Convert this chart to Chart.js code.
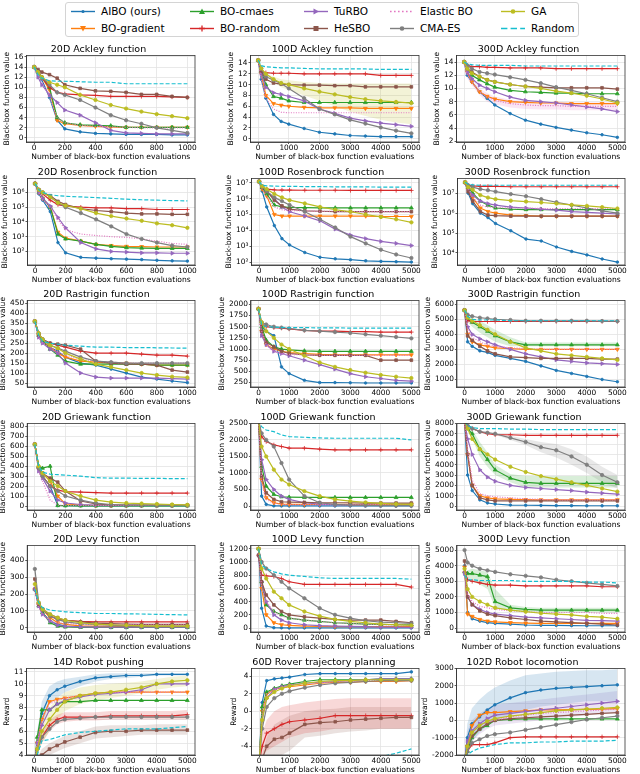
<!DOCTYPE html>
<html>
<head>
<meta charset="utf-8">
<script src="https://cdn.jsdelivr.net/npm/chart.js@4.4.1/dist/chart.umd.min.js"></script>
<style>
body{margin:0;background:#fff;width:640px;height:774px;position:relative;overflow:hidden;font-family:"DejaVu Sans",sans-serif;}
.panel{position:absolute;}
#legend{position:absolute;left:65px;top:2px;width:514px;height:35px;border:1px solid #d4d4d4;border-radius:3px;box-sizing:border-box;}
.item{position:absolute;font-size:10.5px;color:#000;white-space:nowrap;line-height:13px;}
.item svg{position:absolute;left:0;top:0;}
.item span{position:absolute;top:0;}
</style>
</head>
<body>
<div id="legend"></div>
<script>
// ---- data (method order: AIBO, BO-gradient, BO-cmaes, BO-random, TuRBO, HeSBO, Elastic BO, CMA-ES, GA, Random)
const methods = ['AIBO (ours)', 'BO-gradient', 'BO-cmaes', 'BO-random', 'TuRBO', 'HeSBO', 'Elastic BO', 'CMA-ES', 'GA', 'Random'];

const xs1k = [0, 25, 50, 100, 150, 200, 300, 400, 500, 600, 700, 800, 900, 1000];
const xs5k = [0, 100, 250, 500, 750, 1000, 1500, 2000, 2500, 3000, 3500, 4000, 4500, 5000];
const xTicks1k = [0, 200, 400, 600, 800, 1000];
const xTicks5k = [0, 1000, 2000, 3000, 4000, 5000];

const ackley20 = [
  [14, 13, 11.5, 8, 3.5, 1.8, 1.2, 0.9, 0.8, 0.7, 0.7, 0.7, 0.6, 0.6],
  [14, 13, 12, 9.5, 3.5, 2.8, 2.5, 2.3, 2.2, 2.1, 2.1, 2.1, 2.1, 2.1],
  [14, 13, 12, 10, 4, 3, 2.6, 2.5, 2.4, 2.1, 2.1, 2.1, 2.1, 2.1],
  [14, 13, 12, 10, 9, 8.7, 8.5, 8.4, 8.2, 8.2, 8.2, 8.2, 8.1, 8.0],
  [14, 12, 10.5, 8.5, 7, 5.5, 4.5, 3, 1.5, 1.0, 0.9, 0.8, 0.8, 0.8],
  [14, 13.5, 13, 12.5, 11.8, 10.5, 9.8, 9.3, 9.2, 9.0, 8.6, 8.6, 8.2, 8.0],
  [14, 13, 11.5, 8, 4, 3, 2.5, 2.3, 2.2, 2.1, 2.0, 2.0, 2.0, 2.0],
  [14, 13, 12, 10.5, 9, 8.5, 7.5, 6, 4.5, 3.5, 2.8, 2, 1.5, 1.0],
  [14, 13, 12, 11, 10.5, 10, 8.5, 7.5, 6.5, 5.8, 5.2, 4.7, 4.3, 3.9],
  [14, 12.5, 11.8, 11.3, 11.2, 11.2, 11.1, 11, 11, 10.7, 10.7, 10.7, 10.7, 10.7]
];
const ackley100 = [
  [14.5, 11, 7.5, 4.5, 3.2, 2.7, 1.9, 1.2, 0.9, 0.6, 0.5, 0.4, 0.4, 0.4],
  [14.5, 12, 8, 6.5, 6.2, 6.0, 5.8, 5.7, 5.7, 5.7, 5.6, 5.6, 5.6, 5.6],
  [14.5, 12.5, 10, 7.8, 7.5, 7.0, 6.7, 6.7, 6.7, 6.7, 6.7, 6.7, 6.7, 6.7],
  [14.5, 12.5, 12.2, 12.1, 12.1, 12.1, 12.0, 12.0, 12.0, 12.0, 12.0, 11.7, 11.7, 11.7],
  [14.5, 12, 9.5, 8.5, 8.2, 7.8, 7.0, 5.5, 4.7, 3.8, 3.3, 2.9, 2.6, 2.3],
  [14.5, 12.5, 11, 10.3, 10.1, 10.0, 9.9, 9.9, 9.8, 9.8, 9.6, 9.6, 9.6, 9.6],
  [14.5, 11, 7.5, 5.5, 4.9, 4.8, 4.8, 4.8, 4.8, 4.8, 4.8, 4.8, 4.8, 4.8],
  [14.5, 13, 11.5, 10.8, 10.2, 9.3, 7.5, 5.5, 4.5, 3.5, 2.8, 2.1, 1.5, 1.0],
  [14.5, 13, 12, 11, 10.3, 10, 9.3, 8.7, 8.2, 7.7, 7.3, 7.0, 6.8, 6.6],
  [14.5, 13.5, 13.3, 13.2, 13.1, 13.1, 13, 12.9, 12.9, 12.9, 12.9, 12.8, 12.8, 12.8]
];
const ackley100_gaLo = [14.5, 13, 12, 10.5, 9.5, 9, 8, 7, 6, 5, 4.2, 3.5, 3, 2.7];
const ackley100_gaHi = [14.5, 13, 12, 11.5, 11, 10.8, 10.5, 10.3, 10.2, 10.2, 10.2, 10.2, 10.2, 10.2];
const ackley300 = [
  [14, 12, 11, 9.5, 8.5, 7.5, 6.2, 5.2, 4.6, 4.1, 3.7, 3.3, 3.0, 2.6],
  [14, 12.5, 11, 9.5, 8.8, 8.4, 8.0, 7.9, 7.8, 7.8, 7.7, 7.7, 7.7, 7.7],
  [14, 13, 12, 11.3, 10.7, 10.2, 9.7, 9.5, 9.4, 9.3, 9.3, 9.2, 9.2, 9.2],
  [14, 13.5, 13.3, 13.3, 13.2, 13.2, 13.1, 13.1, 13.1, 13.0, 13.0, 13.0, 13.0, 13.0],
  [14, 12.5, 11.5, 10.5, 10, 9.5, 8.7, 8.2, 8.0, 7.8, 7.5, 7.2, 6.9, 6.5],
  [14, 13, 12.5, 11.8, 11.3, 11, 10.6, 10.3, 10.2, 10.1, 10.1, 10.1, 10.1, 9.9],
  [14, 12, 11, 9.5, 8.7, 8.2, 7.7, 7.5, 7.4, 7.4, 7.3, 7.3, 7.3, 7.3],
  [14, 13.5, 13, 12.5, 12.3, 12.1, 11.7, 11.3, 10.8, 10.2, 9.7, 9.2, 8.6, 8.0],
  [14, 13, 12.3, 11.8, 11.3, 11.0, 10.6, 10.3, 10.0, 9.6, 9.3, 8.9, 8.4, 7.8],
  [14, 13.7, 13.6, 13.5, 13.5, 13.5, 13.5, 13.4, 13.4, 13.4, 13.4, 13.4, 13.4, 13.4]
];
const ackley300_ebLo = [14, 11.5, 10.5, 9, 8, 7.6, 7.1, 6.9, 6.8, 6.8, 6.7, 6.7, 6.7, 6.7];
const ackley300_ebHi = [14, 12.5, 11.5, 10, 9.3, 8.8, 8.3, 8.1, 8.0, 8.0, 7.9, 7.9, 7.9, 7.9];
const rosen20 = [
  [4e6, 8e5, 3e5, 5e4, 400, 80, 40, 35, 32, 30, 28, 25, 23, 22],
  [4e6, 1e6, 4e5, 1e5, 2000, 800, 500, 300, 250, 220, 210, 200, 200, 200],
  [4e6, 1e6, 4e5, 1e5, 1500, 700, 500, 300, 220, 180, 170, 160, 160, 160],
  [4e6, 1.5e6, 8e5, 3e5, 1.5e5, 1.2e5, 1e5, 9e4, 9e4, 8e4, 8e4, 7e4, 7e4, 7e4],
  [4e6, 1e6, 4e5, 1.2e5, 2e4, 4000, 400, 150, 100, 90, 80, 80, 75, 75],
  [4e6, 1.5e6, 1e6, 6e5, 2.5e5, 1.5e5, 8e4, 6e4, 5e4, 4e4, 3.5e4, 3.5e4, 3.3e4, 3.3e4],
  [4e6, 1e6, 3e5, 1e5, 1.5e4, 3000, 1500, 1200, 1000, 900, 700, 500, 350, 300],
  [4e6, 1.5e6, 1e6, 5e5, 2e5, 1e5, 4e4, 1.5e4, 5000, 1500, 700, 400, 250, 200],
  [4e6, 1.5e6, 1e6, 5e5, 2e5, 1.3e5, 8e4, 4e4, 2.5e4, 1.7e4, 1.2e4, 8000, 6000, 4000],
  [4e6, 1.5e6, 1e6, 7e5, 6e5, 5.5e5, 5e5, 4.5e5, 4e5, 3.5e5, 3.2e5, 3e5, 2.8e5, 2.7e5]
];
const rosen100 = [
  [1.2e7, 3e6, 3e5, 2e4, 3000, 1200, 400, 200, 160, 140, 120, 110, 105, 100],
  [1.2e7, 4e6, 1.5e6, 1e5, 8e4, 8e4, 8e4, 8e4, 8e4, 8e4, 8e4, 7.5e4, 7.5e4, 7.5e4],
  [1.2e7, 5e6, 2e6, 4e5, 3e5, 2.8e5, 2.7e5, 2.6e5, 2.6e5, 2.6e5, 2.6e5, 2.6e5, 2.6e5, 2.6e5],
  [1.2e7, 5e6, 4e6, 3.6e6, 3.5e6, 3.5e6, 3.4e6, 3.4e6, 3.4e6, 3.3e6, 3.3e6, 3.3e6, 3.3e6, 3.3e6],
  [1.2e7, 6e6, 3e6, 1e6, 3e5, 1.5e5, 8e4, 4e4, 1.2e4, 5000, 3000, 2000, 1500, 1100],
  [1.2e7, 6e6, 3e6, 8e5, 3.5e5, 2.2e5, 1.7e5, 1.6e5, 1.5e5, 1.5e5, 1.5e5, 1.5e5, 1.5e5, 1.5e5],
  [1.2e7, 4e6, 1.5e6, 3e5, 2e5, 1.8e5, 1.7e5, 1.6e5, 1.6e5, 1.5e5, 1.5e5, 1.5e5, 1.5e5, 1.5e5],
  [1.2e7, 6e6, 3e6, 1.2e6, 7e5, 4e5, 1.5e5, 5e4, 1.5e4, 4000, 1500, 600, 300, 180],
  [1.2e7, 6e6, 4e6, 2e6, 1.2e6, 8e5, 5e5, 3e5, 2e5, 1.5e5, 1e5, 7e4, 5e4, 3.2e4],
  [1.2e7, 7e6, 6.5e6, 6.2e6, 6e6, 6e6, 5.8e6, 5.7e6, 5.6e6, 5.5e6, 5.5e6, 5.4e6, 5.4e6, 5.3e6]
];
const rosen300 = [
  [3.5e7, 1e7, 3e6, 1e6, 6e5, 3e5, 1.3e5, 5e4, 4e4, 2e4, 1.2e4, 8000, 5000, 3500],
  [3.5e7, 1.5e7, 6e6, 1.8e6, 1.2e6, 1e6, 8e5, 7.5e5, 7e5, 7e5, 7e5, 7e5, 7e5, 7e5],
  [3.5e7, 2e7, 1e7, 4e6, 2.5e6, 1.8e6, 1.6e6, 1.5e6, 1.5e6, 1.5e6, 1.5e6, 1.5e6, 1.5e6, 1.5e6],
  [3.5e7, 2.5e7, 2.3e7, 2.2e7, 2.2e7, 2.2e7, 2.1e7, 2.1e7, 2.1e7, 2.1e7, 2.1e7, 2.1e7, 2.1e7, 2.1e7],
  [3.5e7, 1.5e7, 8e6, 4e6, 3e6, 2.5e6, 2e6, 1.8e6, 1.6e6, 1.4e6, 1.2e6, 1.1e6, 1e6, 9e5],
  [3.5e7, 1.2e7, 4e6, 1.2e6, 8e5, 7.5e5, 7e5, 7e5, 7e5, 7e5, 7e5, 7e5, 7e5, 7e5],
  [3.5e7, 1.5e7, 6e6, 2.5e6, 2e6, 1.9e6, 1.8e6, 1.8e6, 1.7e6, 1.7e6, 1.7e6, 1.7e6, 1.7e6, 1.7e6],
  [3.5e7, 2.5e7, 2e7, 1.6e7, 1.4e7, 1.2e7, 9e6, 7e6, 5e6, 3.5e6, 2.5e6, 1.8e6, 1.3e6, 1e6],
  [3.5e7, 2e7, 1.5e7, 8e6, 6e6, 5e6, 4.2e6, 3.8e6, 3.4e6, 3e6, 2.6e6, 2.3e6, 2e6, 1.7e6],
  [3.5e7, 2.8e7, 2.6e7, 2.5e7, 2.5e7, 2.5e7, 2.5e7, 2.5e7, 2.5e7, 2.5e7, 2.5e7, 2.5e7, 2.5e7, 2.5e7]
];
const rast20 = [
  [360, 300, 260, 230, 210, 180, 150, 140, 120, 100, 80, 70, 60, 52],
  [360, 290, 260, 230, 200, 180, 160, 155, 150, 150, 145, 140, 140, 140],
  [360, 290, 260, 220, 190, 160, 145, 145, 145, 145, 145, 140, 140, 140],
  [360, 300, 270, 250, 240, 230, 210, 200, 200, 200, 195, 190, 190, 185],
  [360, 280, 250, 220, 200, 150, 100, 80, 75, 75, 75, 75, 72, 70],
  [360, 290, 270, 250, 245, 240, 220, 160, 150, 145, 145, 140, 115, 105],
  [360, 280, 250, 230, 210, 190, 170, 160, 155, 150, 150, 150, 150, 150],
  [360, 300, 270, 240, 225, 210, 180, 160, 155, 150, 150, 150, 150, 150],
  [360, 300, 270, 240, 225, 200, 170, 145, 130, 115, 100, 90, 82, 78],
  [360, 290, 260, 250, 245, 240, 235, 230, 230, 228, 228, 227, 226, 225]
];
const rast100 = [
  [1900, 1500, 1400, 1300, 600, 450, 300, 250, 250, 245, 240, 240, 240, 240],
  [1900, 1400, 1100, 1000, 950, 920, 900, 880, 870, 870, 870, 870, 870, 870],
  [1900, 1500, 1200, 1050, 1000, 980, 960, 950, 950, 950, 950, 950, 950, 950],
  [1900, 1550, 1500, 1480, 1470, 1450, 1420, 1400, 1400, 1390, 1390, 1380, 1380, 1380],
  [1900, 1300, 1100, 950, 900, 850, 750, 650, 550, 450, 380, 340, 300, 280],
  [1900, 1400, 1150, 1050, 950, 900, 870, 860, 860, 860, 860, 750, 750, 750],
  [1900, 1400, 1100, 950, 900, 880, 870, 860, 860, 860, 860, 860, 860, 860],
  [1900, 1600, 1550, 1500, 1480, 1460, 1420, 1400, 1380, 1360, 1330, 1300, 1270, 1240],
  [1900, 1600, 1400, 1250, 1100, 1000, 850, 700, 600, 530, 470, 420, 380, 350],
  [1900, 1550, 1500, 1490, 1485, 1480, 1480, 1475, 1475, 1470, 1470, 1470, 1470, 1470]
];
const rast300 = [
  [5600, 3500, 3200, 2900, 2800, 2600, 2400, 2200, 1900, 1600, 1400, 1200, 1000, 850],
  [5600, 4000, 3500, 3300, 3200, 3100, 3050, 3000, 3000, 3000, 3000, 3000, 3000, 3000],
  [5600, 5000, 4800, 4500, 4200, 3900, 3500, 3300, 3300, 3300, 3300, 3300, 3300, 3300],
  [5600, 4900, 4850, 4850, 4850, 4850, 4850, 4850, 4850, 4850, 4850, 4850, 4850, 4850],
  [5600, 4500, 4000, 3700, 3500, 3300, 3000, 2700, 2500, 2300, 2200, 2100, 2050, 2000],
  [5600, 3900, 3600, 3200, 2900, 2700, 2500, 2450, 2400, 2400, 2400, 2400, 2350, 2350],
  [5600, 4300, 3800, 3500, 3300, 3200, 3100, 3050, 3000, 3000, 3000, 3000, 3000, 3000],
  [5600, 5300, 5200, 5100, 5050, 5000, 4950, 4900, 4900, 4900, 4900, 4900, 4880, 4870],
  [5600, 5100, 4900, 4600, 4300, 4000, 3500, 3100, 2900, 2700, 2600, 2500, 2400, 2300],
  [5600, 5200, 5000, 4950, 4950, 4950, 4900, 4900, 4900, 4900, 4900, 4900, 4900, 4900]
];
const rast300_bocLo = [5600, 4800, 4500, 4100, 3800, 3500, 3200, 3200, 3200, 3200, 3200, 3200, 3200, 3200];
const rast300_bocHi = [5600, 5200, 5100, 4900, 4600, 4300, 3800, 3450, 3450, 3450, 3450, 3450, 3450, 3450];
const grie20 = [
  [620, 400, 300, 200, 5, 3, 2, 2, 2, 2, 2, 2, 2, 2],
  [620, 380, 330, 250, 100, 20, 10, 5, 5, 5, 5, 5, 5, 5],
  [620, 400, 380, 400, 5, 3, 2, 2, 2, 2, 2, 2, 2, 2],
  [620, 380, 300, 200, 160, 145, 140, 135, 130, 130, 130, 130, 130, 130],
  [620, 350, 280, 150, 60, 30, 15, 10, 8, 7, 7, 6, 6, 6],
  [620, 380, 330, 280, 240, 150, 50, 20, 10, 10, 10, 10, 10, 10],
  [620, 350, 250, 60, 10, 5, 5, 5, 5, 5, 5, 5, 5, 5],
  [620, 380, 300, 200, 150, 100, 60, 30, 15, 10, 8, 6, 5, 5],
  [620, 400, 330, 250, 200, 150, 100, 60, 40, 30, 25, 20, 15, 12],
  [620, 400, 340, 320, 315, 310, 300, 285, 280, 280, 278, 278, 275, 275]
];
const grie100 = [
  [2600, 300, 50, 5, 2, 2, 2, 2, 2, 2, 2, 2, 2, 2],
  [2600, 800, 250, 100, 60, 50, 50, 50, 50, 50, 50, 50, 50, 50],
  [2600, 1200, 600, 350, 280, 270, 260, 260, 260, 260, 260, 260, 260, 260],
  [2600, 2100, 1950, 1850, 1800, 1750, 1750, 1720, 1700, 1700, 1700, 1700, 1700, 1700],
  [2600, 1400, 800, 500, 300, 200, 100, 60, 40, 30, 25, 20, 20, 20],
  [2600, 900, 400, 200, 130, 120, 110, 100, 100, 100, 90, 90, 90, 90],
  [2600, 700, 200, 80, 50, 40, 40, 40, 40, 40, 40, 40, 40, 40],
  [2600, 2200, 2000, 1800, 1300, 800, 300, 100, 50, 30, 20, 15, 10, 10],
  [2600, 1800, 1500, 1100, 800, 650, 450, 300, 200, 150, 110, 80, 60, 50],
  [2600, 2400, 2300, 2250, 2150, 2100, 2080, 2060, 2050, 2050, 2050, 2050, 2050, 2000]
];
const grie300 = [
  [8200, 3000, 1500, 600, 300, 200, 100, 80, 60, 50, 40, 30, 30, 30],
  [8200, 5000, 2000, 1000, 800, 700, 650, 620, 600, 600, 600, 600, 600, 600],
  [8200, 7500, 7000, 5500, 4500, 3500, 2700, 2300, 2200, 2200, 2200, 2200, 2200, 2200],
  [8200, 7800, 7500, 7200, 7000, 6900, 6900, 6850, 6850, 6850, 6850, 6850, 6850, 6850],
  [8200, 6500, 5000, 3500, 2800, 2400, 2000, 1800, 1700, 1600, 1500, 1350, 1250, 1150],
  [8200, 5000, 2000, 800, 600, 500, 500, 500, 500, 500, 500, 500, 500, 500],
  [8200, 5500, 2500, 1200, 1000, 900, 800, 700, 650, 600, 600, 600, 600, 600],
  [8200, 7800, 7500, 7200, 7100, 7000, 6600, 6200, 5700, 5400, 4800, 4000, 3000, 2300],
  [8200, 7500, 6500, 5500, 5000, 4500, 3800, 3300, 2900, 2600, 2300, 2000, 1700, 1400],
  [8200, 7800, 7600, 7500, 7500, 7500, 7450, 7450, 7400, 7400, 7400, 7400, 7400, 7400]
];
const grie300_cmaLo = [8200, 7800, 7500, 7200, 7100, 6900, 6400, 5900, 5200, 4700, 4000, 3200, 2300, 1700];
const grie300_cmaHi = [8200, 7800, 7500, 7200, 7100, 7100, 6800, 6500, 6200, 6000, 5500, 4800, 3800, 3000];
const grie300_bocLo = [8200, 7300, 6500, 4800, 3800, 3000, 2300, 1800, 1800, 1800, 1800, 1800, 1800, 1800];
const grie300_bocHi = [8200, 7700, 7400, 6200, 5200, 4000, 3100, 2900, 2900, 2900, 2900, 2900, 2900, 2900];
const levy20 = [
  [230, 130, 90, 40, 20, 10, 5, 3, 2, 2, 2, 2, 2, 2],
  [230, 140, 110, 60, 30, 20, 12, 10, 8, 8, 8, 8, 8, 8],
  [230, 130, 90, 30, 10, 5, 3, 2, 2, 2, 2, 2, 2, 2],
  [230, 140, 110, 70, 50, 45, 38, 35, 35, 35, 35, 35, 35, 35],
  [230, 130, 80, 40, 15, 8, 5, 4, 4, 4, 4, 4, 4, 4],
  [290, 140, 110, 80, 60, 45, 35, 28, 25, 22, 20, 20, 20, 20],
  [230, 120, 80, 40, 30, 25, 20, 18, 18, 18, 18, 18, 18, 18],
  [350, 150, 110, 70, 50, 35, 25, 20, 15, 12, 10, 10, 10, 10],
  [260, 150, 110, 80, 60, 45, 30, 22, 18, 15, 12, 10, 10, 10],
  [230, 150, 120, 105, 100, 95, 90, 85, 85, 83, 82, 80, 78, 77]
];
const levy100 = [
  [1200, 300, 30, 5, 3, 2, 2, 2, 2, 2, 2, 2, 2, 2],
  [1200, 600, 200, 80, 50, 40, 30, 25, 20, 20, 20, 20, 20, 20],
  [1200, 700, 350, 250, 200, 150, 120, 100, 80, 70, 60, 55, 50, 50],
  [1100, 800, 790, 780, 750, 700, 660, 660, 660, 660, 660, 660, 660, 620],
  [1100, 700, 400, 200, 120, 80, 50, 35, 30, 25, 20, 15, 15, 10],
  [1100, 700, 500, 350, 250, 200, 170, 150, 130, 120, 120, 120, 100, 80],
  [1200, 600, 400, 250, 180, 150, 120, 100, 80, 70, 60, 50, 45, 40],
  [1200, 1000, 900, 800, 700, 600, 450, 300, 200, 150, 110, 90, 80, 70],
  [1200, 900, 750, 550, 450, 350, 250, 180, 130, 100, 80, 60, 50, 40],
  [1200, 950, 900, 850, 820, 800, 780, 760, 750, 750, 750, 750, 750, 740]
];
const levy300 = [
  [4000, 1000, 600, 450, 350, 300, 250, 200, 180, 170, 160, 150, 150, 150],
  [3900, 900, 750, 550, 450, 400, 350, 320, 300, 300, 300, 300, 300, 300],
  [3600, 3500, 3500, 3400, 3300, 1700, 1300, 1200, 1150, 1150, 1150, 1150, 1150, 1150],
  [3600, 3100, 3000, 2900, 2800, 2750, 2750, 2700, 2700, 2700, 2700, 2700, 2650, 2650],
  [3500, 2000, 1500, 1200, 1000, 900, 800, 700, 650, 600, 550, 500, 480, 450],
  [4300, 2000, 1500, 1100, 900, 800, 650, 550, 450, 400, 350, 300, 250, 200],
  [3800, 2200, 1700, 1400, 1300, 1200, 1100, 1050, 1000, 1000, 1000, 1000, 950, 950],
  [5000, 4200, 4000, 3800, 3700, 3600, 3450, 3350, 3250, 3100, 3000, 2900, 2800, 2700],
  [3800, 2500, 2000, 1700, 1500, 1300, 1150, 1050, 950, 900, 850, 750, 700, 600],
  [3400, 3100, 3100, 3050, 3050, 3050, 3050, 3000, 3000, 3000, 3000, 2950, 2950, 2900]
];
const levy300_bocLo = [3600, 3200, 3000, 2800, 2500, 1300, 1100, 1050, 1000, 1000, 1000, 1000, 1000, 1000];
const levy300_bocHi = [3600, 3700, 3800, 3700, 3600, 2500, 1500, 1350, 1300, 1300, 1300, 1300, 1300, 1300];
const push14 = [
  [3, 5, 7.5, 9, 9.5, 9.8, 10.2, 10.5, 10.6, 10.7, 10.7, 10.8, 10.8, 10.8],
  [3, 5, 7, 8.5, 8.7, 8.8, 9.0, 9.2, 9.3, 9.3, 9.3, 9.3, 9.3, 9.3],
  [3, 5.5, 7.8, 7.8, 8.3, 8.5, 8.5, 8.6, 8.6, 8.6, 8.6, 8.6, 8.6, 8.6],
  [3, 4.5, 5.5, 6.5, 7.0, 7.2, 7.2, 7.2, 7.3, 7.3, 7.3, 7.3, 7.3, 7.4],
  [3, 5, 6.5, 7.8, 8.3, 8.6, 8.9, 9.1, 9.2, 9.3, 9.5, 10.0, 10.0, 10.0],
  [3, 3.5, 4.0, 4.5, 4.8, 5.1, 5.5, 5.9, 6.0, 6.0, 6.1, 6.1, 6.1, 6.1],
  [3, 5, 7, 8.3, 8.6, 8.8, 9.0, 9.2, 9.3, 9.3, 9.3, 9.3, 9.3, 9.3],
  [3, 4.5, 5.5, 6.2, 6.8, 7.0, 7.1, 7.2, 7.2, 7.2, 7.2, 7.2, 7.2, 7.2],
  [3, 4.5, 6, 7, 7.8, 8.5, 9.0, 9.2, 9.3, 9.5, 9.7, 10.0, 10.2, 10.3],
  [3, 4, 5.2, 5.3, 5.5, 5.7, 5.9, 6.0, 6.1, 6.2, 6.2, 6.2, 6.3, 6.4]
];
const push14_aiboLo = [3, 4, 6.5, 8.3, 8.8, 9.3, 9.8, 10.2, 10.4, 10.5, 10.6, 10.7, 10.7, 10.7];
const push14_aiboHi = [3, 6, 8.5, 9.8, 10.2, 10.4, 10.6, 10.8, 10.9, 10.9, 10.9, 10.9, 10.9, 10.9];
const push14_gaLo = [3, 4, 5, 6, 7, 7.7, 8.3, 8.6, 8.8, 9.0, 9.2, 9.5, 9.7, 9.8];
const push14_gaHi = [3, 5, 7, 8, 8.7, 9.3, 9.7, 9.9, 10, 10.1, 10.2, 10.4, 10.6, 10.7];
const push14_brLo = [3, 4, 5, 6, 6.6, 6.8, 6.9, 6.9, 7.0, 7.0, 7.0, 7.0, 7.0, 7.0];
const push14_brHi = [3, 5, 6, 7, 7.4, 7.6, 7.6, 7.6, 7.7, 7.7, 7.7, 7.7, 7.7, 7.8];
const push14_hsLo = [3, 3.2, 3.5, 4, 4.3, 4.6, 5, 5.4, 5.5, 5.6, 5.7, 5.7, 5.7, 5.7];
const push14_hsHi = [3, 3.8, 4.5, 5, 5.3, 5.6, 6, 6.4, 6.5, 6.5, 6.5, 6.6, 6.6, 6.6];
const rover60 = [
  [-6, 1, 3.5, 3.7, 3.8, 3.9, 4.2, 4.3, 4.3, 4.3, 4.3, 4.3, 4.3, 4.5],
  [-6, 0, 2, 2.5, 2.7, 2.8, 3.0, 3.2, 3.3, 3.3, 3.4, 3.4, 3.4, 3.5],
  [-6, 0.5, 2.2, 2.6, 2.9, 3.1, 3.4, 3.6, 3.6, 3.6, 3.6, 3.7, 3.7, 3.7],
  [-6, -4, -2.5, -2, -1.5, -1.2, -1, -0.8, -0.5, -0.5, -0.5, -0.5, -0.5, -0.5],
  [-6, -1, 1.5, 2.5, 2.8, 3.0, 3.2, 3.3, 3.4, 3.5, 3.6, 3.7, 3.7, 3.7],
  [-6, -5.5, -4, -3.2, -3.0, -2.5, -1.5, -1.3, -1.2, -1.0, -0.9, -0.8, -0.7, -0.7],
  [-6, 0, 2, 2.5, 2.8, 3.0, 3.2, 3.3, 3.4, 3.4, 3.5, 3.5, 3.5, 3.5],
  [-6, -2, 0.5, 1.5, 2.0, 2.3, 2.7, 3.0, 3.2, 3.3, 3.4, 3.5, 3.5, 3.5],
  [-6, -1, 1.5, 2.2, 2.6, 2.9, 3.2, 3.4, 3.5, 3.5, 3.6, 3.6, 3.6, 3.6],
  [-9, -8, -7.5, -7, -7, -6.5, -6.5, -6, -6, -5.5, -5.5, -5.2, -4.8, -4.3]
];
const rover60_brLo = [-6, -5, -4.5, -4, -3.5, -3, -2.5, -2.3, -2, -2, -2, -2, -2, -2];
const rover60_brHi = [-6, -2.5, -1, 0, 0.5, 0.7, 1, 1.2, 1.4, 1.5, 1.5, 1.5, 1.5, 1.5];
const rover60_hsLo = [-6, -6, -6, -5.5, -5, -4.5, -3, -2.8, -2.5, -2.3, -2.2, -2, -2, -2];
const rover60_hsHi = [-6, -5, -3, -1.5, -1, -0.5, 0, 0.2, 0.3, 0.5, 0.5, 0.5, 0.5, 0.5];
const loco102 = [
  [-2500, -1000, -200, 200, 600, 900, 1300, 1600, 1750, 1850, 1900, 1950, 2000, 2050],
  [-2500, -1500, -300, 300, 450, 450, 500, 550, 600, 600, 620, 640, 650, 680],
  [-2500, -1800, -1000, -500, -300, 0, 50, 80, 80, 80, 80, 80, 80, 80],
  [-2500, -1800, -1400, -1400, -1400, -1300, -1000, -950, -950, -950, -950, -950, -950, -950],
  [-2500, -1200, -600, -200, 100, 300, 400, 500, 600, 700, 800, 900, 1000, 1100],
  [-2500, -1500, -900, -500, -200, 0, 100, 150, 200, 250, 300, 350, 400, 450],
  [-2500, -1500, -700, -300, -100, 0, 200, 300, 400, 450, 500, 550, 600, 650],
  [-2500, -1800, -1300, -1100, -900, -800, -700, -550, -400, -250, -100, 50, 150, 250],
  [-2500, -1500, -700, -300, -50, 100, 250, 350, 450, 550, 600, 650, 700, 750],
  [-2500, -2000, -1800, -1600, -1500, -1400, -1300, -1300, -1250, -1250, -1200, -1200, -1200, -1150]
];
const loco102_aiboLo = [-2500, -1800, -1200, -700, -300, 0, 300, 600, 800, 900, 1000, 1100, 1100, 1100];
const loco102_aiboHi = [-2500, -200, 700, 1200, 1600, 1900, 2300, 2600, 2700, 2800, 2850, 2900, 2900, 2950];
const loco102_turboLo = [-2500, -1800, -1200, -800, -500, -300, -200, -100, 0, 100, 200, 300, 400, 500];
const loco102_turboHi = [-2500, -600, 0, 400, 700, 900, 1000, 1100, 1200, 1300, 1400, 1500, 1600, 1700];

// ---- styles
const F = '"DejaVu Sans", sans-serif';
const colors = ['#1f77b4', '#ff7f0e', '#2ca02c', '#d62728', '#9467bd', '#8c564b', '#e377c2', '#7f7f7f', '#bcbd22', '#17becf'];
const markers = [
  {s: 'circle', r: 1.3}, {s: 'triangle', r: 2.2, rot: 180}, {s: 'triangle', r: 2.2}, {s: 'cross', r: 2.2},
  {s: 'triangle', r: 2.2, rot: 90}, {s: 'rect', r: 1.9}, {s: false, r: 0}, {s: 'circle', r: 1.7},
  {s: 'circle', r: 1.7}, {s: false, r: 0}
];
const dashes = [[], [], [], [], [], [], [1, 1.5], [], [], [4, 2]];

const YL = 'Black-box function value';
const panels = [
  {title: '20D Ackley function', xs: xs1k, xt: xTicks1k, yt: [0, 2, 4, 6, 8, 10, 12, 14, 16], ymin: -0.8, ymax: 16.3, data: ackley20},
  {title: '100D Ackley function', xs: xs5k, xt: xTicks5k, yt: [0, 2, 4, 6, 8, 10, 12, 14], ymin: -0.6, ymax: 15.4, data: ackley100,
    bands: [[8, ackley100_gaLo, ackley100_gaHi]]},
  {title: '300D Ackley function', xs: xs5k, xt: xTicks5k, yt: [2, 4, 6, 8, 10, 12, 14], ymin: 1.9, ymax: 15, data: ackley300,
    bands: [[6, ackley300_ebLo, ackley300_ebHi]]},
  {title: '20D Rosenbrock function', xs: xs1k, xt: xTicks1k, yt: [1e2, 1e3, 1e4, 1e5, 1e6], ymin: 12, ymax: 9e6, data: rosen20, log: true},
  {title: '100D Rosenbrock function', xs: xs5k, xt: xTicks5k, yt: [1e2, 1e3, 1e4, 1e5, 1e6, 1e7], ymin: 65, ymax: 1.9e7, data: rosen100, log: true},
  {title: '300D Rosenbrock function', xs: xs5k, xt: xTicks5k, yt: [1e4, 1e5, 1e6, 1e7], ymin: 2.5e3, ymax: 5.5e7, data: rosen300, log: true},
  {title: '20D Rastrigin function', xs: xs1k, xt: xTicks1k, yt: [50, 100, 150, 200, 250, 300, 350, 400, 450], ymin: 30, ymax: 465, data: rast20},
  {title: '100D Rastrigin function', xs: xs5k, xt: xTicks5k, yt: [250, 500, 750, 1000, 1250, 1500, 1750, 2000], ymin: 150, ymax: 2090, data: rast100},
  {title: '300D Rastrigin function', xs: xs5k, xt: xTicks5k, yt: [1000, 2000, 3000, 4000, 5000, 6000], ymin: 500, ymax: 6250, data: rast300,
    bands: [[2, rast300_bocLo, rast300_bocHi]]},
  {title: '20D Griewank function', xs: xs1k, xt: xTicks1k, yt: [0, 100, 200, 300, 400, 500, 600, 700, 800], ymin: -40, ymax: 830, data: grie20},
  {title: '100D Griewank function', xs: xs5k, xt: xTicks5k, yt: [0, 500, 1000, 1500, 2000, 2500], ymin: -120, ymax: 2500, data: grie100},
  {title: '300D Griewank function', xs: xs5k, xt: xTicks5k, yt: [0, 1000, 2000, 3000, 4000, 5000, 6000, 7000, 8000], ymin: -380, ymax: 8000, data: grie300,
    bands: [[7, grie300_cmaLo, grie300_cmaHi], [2, grie300_bocLo, grie300_bocHi]]},
  {title: '20D Levy function', xs: xs1k, xt: xTicks1k, yt: [0, 100, 200, 300, 400], ymin: -25, ymax: 490, data: levy20},
  {title: '100D Levy function', xs: xs5k, xt: xTicks5k, yt: [0, 200, 400, 600, 800, 1000, 1200], ymin: -60, ymax: 1250, data: levy100},
  {title: '300D Levy function', xs: xs5k, xt: xTicks5k, yt: [0, 1000, 2000, 3000, 4000, 5000], ymin: -250, ymax: 5300, data: levy300,
    bands: [[2, levy300_bocLo, levy300_bocHi]]},
  {title: '14D Robot pushing', xs: xs5k, xt: xTicks5k, yt: [4, 5, 6, 7, 8, 9, 10, 11], ymin: 4, ymax: 11.3, data: push14, yl: 'Reward',
    bands: [[0, push14_aiboLo, push14_aiboHi], [8, push14_gaLo, push14_gaHi], [3, push14_brLo, push14_brHi], [5, push14_hsLo, push14_hsHi]]},
  {title: '60D Rover trajectory planning', xs: xs5k, xt: xTicks5k, yt: [-4, -2, 0, 2, 4], ymin: -5, ymax: 4.9, data: rover60, yl: 'Reward',
    bands: [[3, rover60_brLo, rover60_brHi], [5, rover60_hsLo, rover60_hsHi]]},
  {title: '102D Robot locomotion', xs: xs5k, xt: xTicks5k, yt: [-2000, -1000, 0, 1000, 2000, 3000], ymin: -2000, ymax: 3000, data: loco102, yl: 'Reward',
    bands: [[0, loco102_aiboLo, loco102_aiboHi], [4, loco102_turboLo, loco102_turboHi]]}
];

// ---- layout
const plotLeft = [27, 251, 457];
const PW = 168;
const rowTop = [44, 166.5, 289, 411.5, 534, 656.5];
const H = 118;

const sup = {'0': '⁰', '1': '¹', '2': '²', '3': '³', '4': '⁴', '5': '⁵', '6': '⁶', '7': '⁷', '8': '⁸', '9': '⁹', '-': '⁻'};
function logLabel(v) {
  const e = String(Math.round(Math.log10(v)));
  return '10' + e.split('').map(c => sup[c]).join('');
}
function alpha(hex, a) {
  const n = parseInt(hex.slice(1), 16);
  return `rgba(${n >> 16},${(n >> 8) & 255},${n & 255},${a})`;
}

const frame = {
  id: 'frame',
  afterDraw(c) {
    const a = c.chartArea, ctx = c.ctx;
    ctx.save();
    ctx.strokeStyle = '#333';
    ctx.lineWidth = 0.8;
    ctx.strokeRect(a.left, a.top, a.right - a.left, a.bottom - a.top);
    ctx.restore();
  }
};

function buildConfig(p) {
  const sets = [];
  (p.bands || []).forEach(b => {
    const c = colors[b[0]];
    sets.push({data: p.xs.map((x, k) => ({x, y: b[1][k]})), borderWidth: 0, pointRadius: 0, fill: false, order: 50});
    sets.push({data: p.xs.map((x, k) => ({x, y: b[2][k]})), borderWidth: 0, pointRadius: 0,
      fill: '-1', backgroundColor: alpha(c, 0.18), order: 50});
  });
  p.data.forEach((vals, i) => {
    const m = markers[i];
    sets.push({
      data: p.xs.map((x, k) => ({x, y: vals[k]})),
      borderColor: colors[i], backgroundColor: colors[i], borderWidth: 1.2, borderDash: dashes[i],
      pointStyle: m.s || 'circle', pointRadius: m.r, pointRotation: m.rot || 0, pointBorderWidth: 0.8,
      pointBackgroundColor: colors[i], pointBorderColor: colors[i],
      tension: 0, fill: false, order: 20 - i
    });
  });
  const is1k = p.xt[p.xt.length - 1] === 1000;
  const tickFont = {size: 7.4, family: F};
  const grid = {color: '#e3e3e3', lineWidth: 0.8, tickColor: '#333', tickLength: 2};
  return {
    type: 'line',
    data: {datasets: sets},
    options: {
      responsive: false, maintainAspectRatio: false, animation: false,
      layout: {padding: {left: 0, right: 6, top: 0, bottom: 0}},
      plugins: {
        legend: {display: false}, tooltip: {enabled: false},
        title: {display: true, text: p.title, color: '#000', font: {size: 9.5, family: F, weight: 'normal'}, padding: {top: 0, bottom: 0}}
      },
      scales: {
        x: {
          type: 'linear', min: is1k ? -50 : -250, max: is1k ? 1050 : 5250,
          afterBuildTicks: s => { s.ticks = p.xt.map(v => ({value: v})); },
          ticks: {font: tickFont, color: '#000', maxRotation: 0, autoSkip: false, padding: 0, callback: v => String(v)},
          grid: grid, border: {color: '#333', width: 0.8},
          title: {display: true, text: 'Number of black-box function evaluations', color: '#000', font: {size: 7.6, family: F}, padding: 0}
        },
        y: {
          type: p.log ? 'logarithmic' : 'linear', min: p.ymin, max: p.ymax,
          afterBuildTicks: s => { s.ticks = p.yt.map(v => ({value: v})); },
          ticks: {font: tickFont, color: '#000', autoSkip: false, padding: 1, callback: v => p.log ? logLabel(v) : String(v)},
          grid: grid, border: {color: '#333', width: 0.8},
          title: {display: true, text: p.yl || YL, color: '#000', font: {size: 7.6, family: F}, padding: {top: 0, bottom: 2}}
        }
      }
    },
    plugins: [frame]
  };
}

function makePanel(p, idx) {
  const col = idx % 3, row = Math.floor(idx / 3);
  // first pass: measure how wide the y axis (ticks + title) comes out
  const probe = document.createElement('canvas');
  probe.width = 220; probe.height = H;
  probe.style.position = 'absolute'; probe.style.left = '-1000px';
  document.body.appendChild(probe);
  const tmp = new Chart(probe, buildConfig(p));
  const axisW = tmp.chartArea.left;
  tmp.destroy();
  probe.remove();

  const w = Math.round(axisW + PW + 6);
  const div = document.createElement('div');
  div.className = 'panel';
  div.style.left = (plotLeft[col] - axisW) + 'px';
  div.style.top = rowTop[row] + 'px';
  const cv = document.createElement('canvas');
  cv.width = w; cv.height = H;
  cv.style.width = w + 'px'; cv.style.height = H + 'px';
  div.appendChild(cv);
  document.body.appendChild(div);
  new Chart(cv, buildConfig(p));
}

panels.forEach(makePanel);

// ---- legend (HTML)
const legendCols = [4, 123, 237, 323, 434];
const legend = document.getElementById('legend');
function markerSvg(i, cx, cy) {
  const c = colors[i];
  switch (i) {
    case 0: return `<circle cx="${cx}" cy="${cy}" r="1.6" fill="${c}"/>`;
    case 1: return `<polygon points="${cx - 3},${cy - 2.5} ${cx + 3},${cy - 2.5} ${cx},${cy + 3}" fill="${c}"/>`;
    case 2: return `<polygon points="${cx - 3},${cy + 2.5} ${cx + 3},${cy + 2.5} ${cx},${cy - 3}" fill="${c}"/>`;
    case 3: return `<path d="M${cx - 3} ${cy}H${cx + 3}M${cx} ${cy - 3}V${cy + 3}" stroke="${c}" stroke-width="1.3"/>`;
    case 4: return `<polygon points="${cx - 2.5},${cy - 3} ${cx - 2.5},${cy + 3} ${cx + 3},${cy}" fill="${c}"/>`;
    case 5: return `<rect x="${cx - 2.5}" y="${cy - 2.5}" width="5" height="5" fill="${c}"/>`;
    case 7: case 8: return `<circle cx="${cx}" cy="${cy}" r="2.3" fill="${c}"/>`;
    default: return '';
  }
}
methods.forEach((name, i) => {
  const col = Math.floor(i / 2), row = i % 2;
  const it = document.createElement('div');
  it.className = 'item';
  it.style.left = legendCols[col] + 'px';
  it.style.top = (row === 0 ? 2 : 19) + 'px';
  const dash = dashes[i].length ? `stroke-dasharray="${dashes[i].map(d => d * 1.6).join(',')}"` : '';
  it.innerHTML = `<svg width="28" height="13"><line x1="1" y1="6.5" x2="25" y2="6.5" stroke="${colors[i]}" stroke-width="1.4" ${dash}/>${markerSvg(i, 13, 6.5)}</svg><span style="left:31px">${name}</span>`;
  legend.appendChild(it);
});
</script>
</body>
</html>
